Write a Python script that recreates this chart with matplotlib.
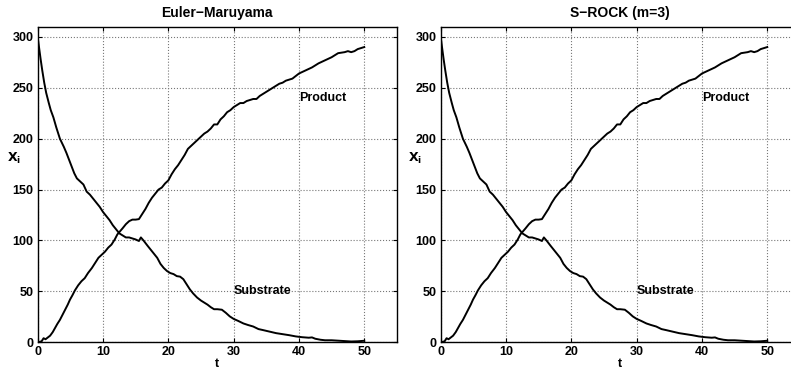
import matplotlib
matplotlib.use("Agg")
import matplotlib.pyplot as plt

plt.rcParams['font.family'] = ['Liberation Sans', 'DejaVu Sans']
plt.rcParams['font.weight'] = 'bold'

titles = ["Euler\u2212Maruyama", "S\u2212ROCK (m=3)"]

t_sub = [0, 0.2, 0.45, 0.7, 1.0, 1.3, 1.7, 2.0, 2.4, 2.85, 3.4, 4.0, 4.4, 5.0,
         5.6, 6.0, 6.5, 7.0, 7.5,
         8.0, 8.5, 9.0, 9.5, 10.0, 10.5, 11.0, 11.5, 12.0, 12.5, 13.0, 13.5, 14.0, 14.5,
         15.0, 15.5, 15.8, 16.2, 16.8, 17.3, 17.8, 18.3, 18.8, 19.3, 19.8, 20.3, 20.8,
         21.3, 21.8, 22.3, 22.8, 23.3, 23.8, 24.4, 25.0, 25.5, 26.0, 26.5, 27.0, 27.5,
         28.2, 28.8, 29.4, 30.0, 30.7, 31.5, 32.2, 33.0, 33.8, 34.5, 35.5, 36.5, 37.5,
         38.5, 39.5, 40.5, 41.5, 42.0, 42.5, 43.3, 44.0, 45.0, 46.0, 47.0, 48.0, 49.0, 50.0]
substrate = [300, 290, 278, 267, 255, 245, 235, 228, 221, 211, 200, 192, 186, 176,
             166, 161, 158, 155, 148,
             145, 141, 137, 133, 128, 124, 120, 115, 111, 107, 105, 103, 103, 102,
             101, 99.5, 103, 100, 95, 91, 87, 83, 77, 73, 70, 68, 67,
             65, 64.5, 62, 57, 52, 48, 44, 41, 39, 37, 34.5, 32.5, 32.5,
             32, 29, 25.5, 23, 21, 18.5, 17, 15.5, 13, 12, 10.5, 9, 8,
             7, 5.8, 5, 4.5, 4.8, 3.5, 2.5, 2.0, 2.0, 1.6, 1.2, 0.8, 1.0, 1.5]

t_prod = [0, 0.6, 0.9, 1.2, 1.6, 1.9, 2.3, 2.65, 3.0, 3.4, 3.8, 4.2, 4.6, 4.95, 5.3, 5.7,
          6.2, 6.7, 7.2, 7.7, 8.3, 8.8, 9.3, 9.8, 10.3, 10.8, 11.3, 11.8, 12.2, 12.6,
          13.0, 13.5, 14.0, 14.5, 15.0, 15.5, 16.0, 16.5, 17.0, 17.5, 18.0, 18.5, 19.0,
          19.5, 20.0, 20.5, 21.0,
          21.5, 22.0, 22.5, 23.0, 23.5, 24.0, 24.5, 25.0, 25.5, 26.0, 26.5, 27.0, 27.5,
          28.0, 28.5, 29.0, 29.5, 30.0, 30.5, 31.0, 31.5, 32.0, 33.0, 33.5, 34.0, 35.0,
          36.0, 37.0, 37.5, 38.0, 39.0, 40.0, 41.0, 42.0, 43.0, 44.0, 45.0, 46.0, 47.0,
          47.5, 48.0, 48.5, 49.0, 50.0]
product = [0, 1, 4, 3, 5, 6.5, 10, 14, 18, 22, 27, 32, 37, 42, 46, 51,
           56, 60, 63, 68, 73, 78, 83, 86, 89, 93, 96, 101, 106, 109,
           112, 116, 119, 120.5, 120.5, 121, 126, 131, 137, 142, 146, 150, 152,
           156, 159, 165, 170,
           174, 179, 184, 190, 193, 196, 199, 202, 205, 207, 210, 214, 214,
           219, 222, 226, 228, 231, 233, 235, 235, 237, 239, 239, 242, 246,
           250, 254, 255, 257, 259, 264, 267, 270, 274, 277, 280, 284, 285,
           286, 285, 286, 288, 290]

xticks = [0, 10, 20, 30, 40, 50]
yticks = [0, 50, 100, 150, 200, 250, 300]

W, H = 791, 369
fig = plt.figure(figsize=(W / 100, H / 100), dpi=100)

lefts_px = [37.7, 440.7]
width_px = 359.2
bottom_px = 369 - 342.3
height_px = 315.6
ylabel_x = [-0.066, -0.072]

for i, lp in enumerate(lefts_px):
    ax = fig.add_axes([lp / W, bottom_px / H, width_px / W, height_px / H])
    ax.plot(t_sub, substrate, color='black', lw=1.4)
    ax.plot(t_prod, product, color='black', lw=1.4)
    ax.set_xlim(0, 55)
    ax.set_ylim(0, 310)
    ax.set_xticks(xticks)
    ax.set_yticks(yticks)
    ax.tick_params(direction='in', top=True, right=True, length=3, width=0.8,
                   labelsize=9, pad=3)
    for lab in ax.get_xticklabels() + ax.get_yticklabels():
        lab.set_fontweight('bold')
    ax.grid(True, linestyle=':', color='#777777', linewidth=0.8)
    for s in ax.spines.values():
        s.set_linewidth(1.0)
    ax.set_title(titles[i], fontsize=10, fontweight='bold', pad=7)
    ax.set_xlabel('t', fontsize=9, fontweight='bold', labelpad=0)
    ax.set_ylabel(r'$\mathbf{X_i}$', fontsize=9, rotation=0)
    ax.yaxis.set_label_coords(ylabel_x[i], 0.56)
    ax.text(40, 240, 'Product', fontsize=9, fontweight='bold', ha='left', va='center')
    ax.text(30, 50, 'Substrate', fontsize=9, fontweight='bold', ha='left', va='center')

fig.savefig('out.png', dpi=100)
